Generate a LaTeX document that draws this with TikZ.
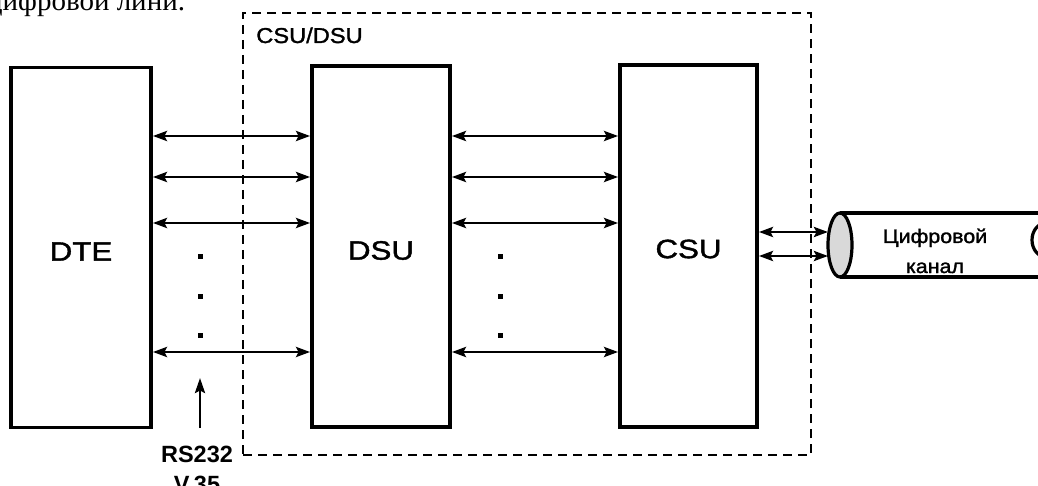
\documentclass[tikz,border=0pt]{standalone}
\usepackage{fontspec}
\setmainfont{Liberation Sans}
\newfontfamily\lblfont[FakeStretch=1.18,FakeBold=1.5]{Liberation Sans}
\newfontfamily\wfont[FakeStretch=1.1,FakeBold=1.5]{Liberation Sans}
\newfontfamily\serfont{Liberation Serif}
\usetikzlibrary{arrows.meta,shapes.geometric}
\begin{document}
\begin{tikzpicture}[x=1pt,y=-1pt,
  unitbox/.style={draw, line width=3.8pt, inner sep=0pt},
  boxlbl/.style={font=\lblfont\fontsize{26.5}{30}\selectfont},
  link/.style={line width=2.8pt, {Stealth[length=14pt,width=10pt,inset=2.5pt]}-{Stealth[length=14pt,width=10pt,inset=2.5pt]}},
  uparrow/.style={line width=2.8pt, -{Stealth[length=15pt,width=10pt,inset=2.5pt]}},
  dotn/.style={fill, rectangle, inner sep=0pt, minimum size=5pt},
  grpbox/.style={draw, line width=2.6pt, dash pattern=on 9pt off 6pt, inner sep=0pt},
  wtext/.style={font=\wfont\fontsize{#1}{#1}\selectfont, anchor=base, inner sep=0pt},
  rstext/.style={font=\bfseries\fontsize{23.5}{26}\selectfont, anchor=base, inner sep=0pt},
  cyl/.style={line width=3.2pt}
]
\useasboundingbox (0,0) rectangle (1038,486);
\clip (0,0) rectangle (1038,486);

% previous page text (cut off)
\node[font=\serfont\fontsize{29}{32}\selectfont, anchor=base west, inner sep=0pt] (prev) at (-13,11) {цифровой лини.};

% dashed group
\node[grpbox, minimum width=568pt, minimum height=442pt] (grp) at (527,234) {};
\node[wtext=21.5] (grplbl) at (309.5,43) {CSU/DSU};

% units
\node[unitbox, minimum width=140pt, minimum height=360pt,
      label={[boxlbl,yshift=-4pt]center:DTE}] (dte) at (81,247.5) {};
\node[unitbox, minimum width=138pt, minimum height=361pt,
      label={[boxlbl,yshift=-4pt]center:DSU}] (dsu) at (381,246.5) {};
\node[unitbox, minimum width=137pt, minimum height=362pt,
      label={[boxlbl,yshift=-3pt]center:CSU}] (csu) at (688.5,246) {};

% interface lines
\foreach \yy [count=\i] in {136,177,223,352} {
  \coordinate (r\i) at (0,\yy);
  \draw[link] (dte.east |- r\i) -- (dsu.west |- r\i);
  \draw[link] (dsu.east |- r\i) -- (csu.west |- r\i);
}
\foreach \yy [count=\i] in {257,296,335} {
  \node[dotn] (dl\i) at (200,\yy) {};
  \node[dotn] (dr\i) at (500,\yy) {};
}

% RS232 / V.35
\node[rstext] (rs) at (197,462) {RS232};
\node[rstext] (v35) at (197,492) {V.35};
\coordinate (rsbase) at (200,428);
\coordinate (rstip) at (200,378);
\draw[uparrow] (rsbase) -- (rstip);

% digital channel (cylinder)
\node[ellipse, draw, line width=3.2pt, fill=gray!30, minimum width=24pt,
      minimum height=64pt, inner sep=0pt, outer sep=0pt] (chan) at (840,245) {};
\draw[cyl] (chan.north) -- ++(230,0);
\draw[cyl] (chan.south) -- ++(230,0);
\draw[cyl] (1046,240) ellipse [x radius=14pt, y radius=17pt];
\coordinate (c1) at (0,232);
\coordinate (c2) at (0,256);
\draw[link] (csu.east |- c1) -- (chan.west |- c1);
\draw[link] (csu.east |- c2) -- (chan.west |- c2);
\node[wtext=19.5] (t1) at (935,243) {Цифровой};
\node[wtext=19.5] (t2) at (935,273) {канал};
\end{tikzpicture}
\end{document}
